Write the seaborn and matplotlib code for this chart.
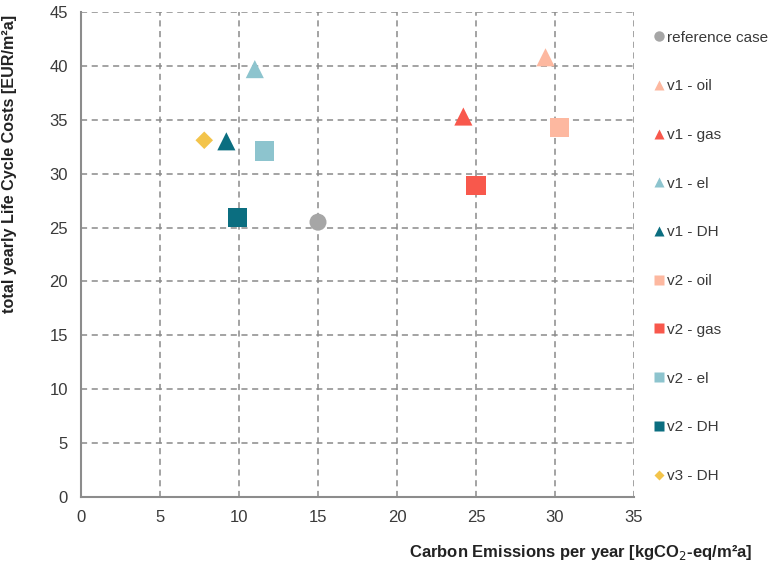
import matplotlib
matplotlib.use("Agg")
import matplotlib.pyplot as plt
from matplotlib.lines import Line2D
import seaborn as sns
import pandas as pd

labels = ["reference case", "v1 - oil", "v1 - gas", "v1 - el", "v1 - DH",
          "v2 - oil", "v2 - gas", "v2 - el", "v2 - DH", "v3 - DH"]
emissions = [15.0, 29.4, 24.2, 11.0, 9.2, 30.3, 25.0, 11.6, 9.9, 7.8]
costs = [25.5, 40.8, 35.3, 39.7, 33.0, 34.3, 28.9, 32.1, 25.9, 33.1]
colors = ["#A6A6A6", "#FDB8A0", "#F8584C", "#8DC4CE", "#0B6E80",
          "#FDB8A0", "#F8584C", "#8DC4CE", "#0B6E80", "#F3C44B"]
markers = ["o", "^", "^", "^", "^", "s", "s", "s", "s", "D"]
marker_sizes = [150, 170, 170, 170, 170, 190, 190, 190, 190, 80]

df = pd.DataFrame({"label": labels, "x": emissions, "y": costs})

sns.set_style("white")
plt.rcParams["font.family"] = ["Liberation Sans", "DejaVu Sans"]

fig = plt.figure(figsize=(7.81, 5.66), dpi=100)
ax = fig.add_axes([81/781, 1-497/566, (634-81)/781, (497-12)/566])

sns.scatterplot(data=df, x="x", y="y", hue="label", style="label", size="label",
                palette=dict(zip(labels, colors)),
                markers=dict(zip(labels, markers)),
                sizes=dict(zip(labels, marker_sizes)),
                linewidth=0, legend=False, ax=ax, zorder=3)

ax.set_xlim(0, 35)
ax.set_ylim(0, 45)
ax.set_xticks(range(0, 36, 5))
ax.set_yticks(range(0, 46, 5))
ax.grid(True, color="#8a8a8a", linestyle=(0, (4, 3)), linewidth=1.1, zorder=0)
for s in ["top", "right"]:
    ax.spines[s].set_visible(False)
for s in ["left", "bottom"]:
    ax.spines[s].set_color("#8c8c8c")
    ax.spines[s].set_linewidth(1.5)
ax.tick_params(axis="both", direction="inout", length=7, width=1, color="#8c8c8c",
               labelsize=12, labelcolor="#3a3a3a", pad=6)

ax.set_xlabel("Carbon Emissions per year [kgCO$_2$-eq/m²a]", fontsize=12,
              fontweight="bold", color="#222222")
ax.xaxis.set_label_coords((581-81)/553, -0.095)
ax.set_ylabel("total yearly Life Cycle Costs [EUR/m²a]", fontsize=11.6,
              fontweight="bold", color="#222222")
ax.yaxis.set_label_coords(-0.115, (497-164)/485)

handles = [Line2D([0], [0], marker=m, color="none", markerfacecolor=c,
                  markeredgecolor="none", markersize=(7.5 if m != "D" else 5.5))
           for m, c in zip(markers, colors)]
leg = fig.legend(handles, labels, loc="upper left",
                 bbox_to_anchor=(639/781, 1-17/566), frameon=False,
                 fontsize=11, labelspacing=2.27, handletextpad=0.15,
                 handlelength=0.8, labelcolor="#3a3a3a")

fig.savefig("out.png", dpi=100)
